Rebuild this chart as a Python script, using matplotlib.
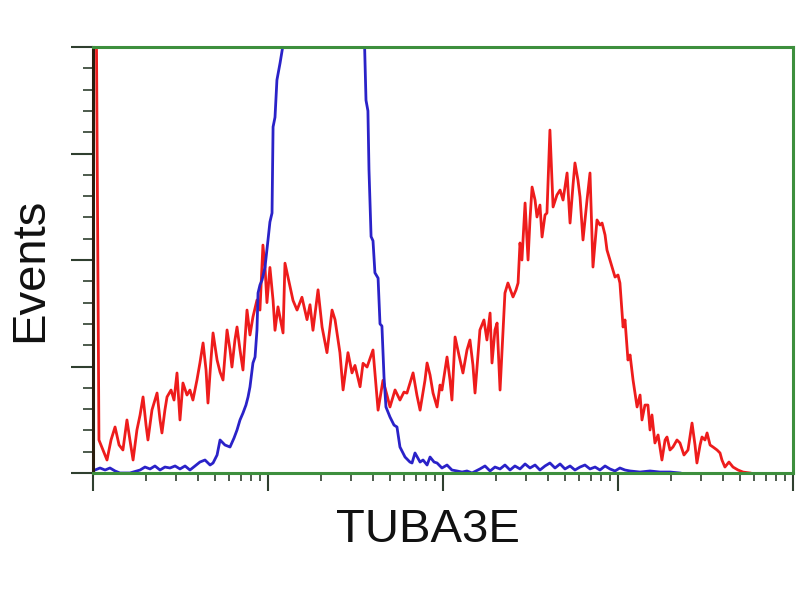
"""
Flow cytometry overlay: TUBA3E stained (red) vs control (blue).
Values read off the reference histogram, x in log10 decades, y in events.
"""

import numpy as np
import matplotlib.pyplot as plt
from matplotlib.ticker import LogLocator, MultipleLocator, NullFormatter

# ── Data ─────────────────────────────────────────────────────────────────────
RED_LOGX = [
    0.017, 0.034, 0.057, 0.080, 0.103, 0.126, 0.149, 0.171, 0.194, 0.211,
    0.229, 0.251, 0.269, 0.286, 0.303, 0.314, 0.337, 0.366, 0.383, 0.394,
    0.411, 0.423, 0.446, 0.463, 0.480, 0.497, 0.514, 0.537, 0.554, 0.571,
    0.594, 0.611, 0.629, 0.646, 0.657, 0.674, 0.686, 0.709, 0.726, 0.743,
    0.766, 0.783, 0.794, 0.811, 0.823, 0.840, 0.857, 0.880, 0.897, 0.914,
    0.937, 0.954, 0.971, 0.983, 0.994, 1.011, 1.029, 1.040, 1.057, 1.086,
    1.097, 1.126, 1.143, 1.166, 1.194, 1.223, 1.240, 1.257, 1.286, 1.309,
    1.337, 1.366, 1.383, 1.411, 1.429, 1.457, 1.480, 1.497, 1.526, 1.543,
    1.566, 1.600, 1.629, 1.657, 1.680, 1.697, 1.726, 1.754, 1.777, 1.794,
    1.829, 1.851, 1.869, 1.897, 1.909, 1.926, 1.943, 1.966, 1.983, 1.994,
    2.023, 2.040, 2.051, 2.069, 2.091, 2.114, 2.137, 2.154, 2.171, 2.183,
    2.211, 2.234, 2.251, 2.269, 2.280, 2.297, 2.309, 2.326, 2.343, 2.354,
    2.371, 2.400, 2.417, 2.429, 2.440, 2.451, 2.469, 2.486, 2.497, 2.509,
    2.526, 2.537, 2.554, 2.566, 2.583, 2.594, 2.611, 2.623, 2.629, 2.651,
    2.669, 2.686, 2.709, 2.726, 2.743, 2.754, 2.771, 2.783, 2.800, 2.823,
    2.840, 2.857, 2.880, 2.897, 2.909, 2.926, 2.937, 2.954, 2.983, 3.000,
    3.011, 3.029, 3.040, 3.057, 3.069, 3.086, 3.109, 3.126, 3.137, 3.154,
    3.171, 3.183, 3.194, 3.211, 3.229, 3.251, 3.269, 3.280, 3.297, 3.314,
    3.337, 3.354, 3.377, 3.400, 3.423, 3.440, 3.451, 3.469, 3.480, 3.497,
    3.509, 3.526, 3.543, 3.566, 3.583, 3.594, 3.611, 3.634, 3.657, 3.686,
    3.714, 3.754,
]
RED_EVENTS = [
    480, 31, 21.6, 12.2, 31, 43.2, 26.3, 21.6, 49.8, 31,
    12.2, 40.4, 54.5, 71.4, 45.1, 31, 59.2, 75.1, 49.8, 37.6,
    59.2, 71.4, 77.9, 68.5, 93.9, 49.8, 84.5, 73.2, 77.9, 68.5,
    87.3, 103.3, 122.1, 96.7, 65.7, 106.1, 131.5, 106.1, 94.8, 87.3,
    134.3, 115.5, 99.5, 124.9, 137.1, 115.5, 96.7, 153, 129.6, 146.5,
    162.4, 153, 214, 193, 160, 193, 162, 134, 156, 131.5,
    197, 175, 162, 153, 165, 144, 158, 134, 172, 137,
    113, 153, 144, 113, 78, 113, 94, 101, 81, 103,
    99.5, 115.5, 59, 87, 73, 62, 78, 68.5, 76, 75,
    94, 73, 59, 87, 103.3, 92, 75.1, 62, 82.6, 77.9,
    108.9, 87.3, 68.5, 127.7, 110.8, 93.9, 115.5, 124.9, 101.4, 75.1,
    134.3, 143.7, 124.9, 150.2, 103.3, 134.3, 140.8, 77.9, 134.3, 169,
    178.4, 165.3, 171.8, 178.4, 216, 200, 253.5, 200, 237.6, 268.5,
    256.3, 240.4, 251.6, 221.6, 242.3, 244.1, 322, 275.1, 249.8, 261,
    265.7, 256.3, 281.7, 234.7, 270.4, 291.1, 275.1, 259.2, 218.8, 256.3,
    281.7, 193.4, 237.6, 232.9, 234.7, 223.5, 209.4, 200, 184, 185.9,
    178.4, 137.1, 143.7, 106.1, 110.8, 87.3, 62, 73.2, 49.8, 63.8,
    63.8, 40.4, 54.5, 28.2, 35.7, 12.2, 31, 33.8, 21.6, 24.4,
    31, 28.2, 16.9, 21.6, 46.9, 26.3, 9.4, 26.3, 33.8, 31,
    37.6, 26.3, 24.4, 21.6, 18.8, 12.2, 5.6, 10.3, 5.6, 2.8,
    0.9, 0,
]

BLUE_LOGX = [
    0.011, 0.040, 0.069, 0.097, 0.126, 0.154, 0.211, 0.269, 0.297, 0.326,
    0.354, 0.383, 0.411, 0.440, 0.469, 0.497, 0.526, 0.554, 0.583, 0.611,
    0.640, 0.669, 0.686, 0.709, 0.726, 0.754, 0.783, 0.806, 0.823, 0.840,
    0.857, 0.874, 0.886, 0.897, 0.914, 0.926, 0.937, 0.943, 0.954, 0.966,
    0.983, 1.000, 1.011, 1.023, 1.029, 1.040, 1.051, 1.069, 1.086, 1.126,
    1.183, 1.240, 1.297, 1.354, 1.411, 1.469, 1.514, 1.549, 1.560, 1.571,
    1.577, 1.589, 1.600, 1.611, 1.629, 1.640, 1.651, 1.663, 1.674, 1.697,
    1.720, 1.737, 1.754, 1.783, 1.811, 1.823, 1.840, 1.869, 1.886, 1.909,
    1.926, 1.949, 1.966, 1.994, 2.023, 2.051, 2.080, 2.109, 2.137, 2.166,
    2.211, 2.240, 2.269, 2.297, 2.326, 2.354, 2.383, 2.411, 2.440, 2.469,
    2.497, 2.526, 2.554, 2.583, 2.611, 2.640, 2.669, 2.697, 2.726, 2.754,
    2.783, 2.811, 2.840, 2.869, 2.897, 2.926, 2.954, 2.983, 3.011, 3.040,
    3.069, 3.126, 3.183, 3.240, 3.297, 3.354,
]
BLUE_EVENTS = [
    2.8, 4.7, 2.8, 4.7, 1.9, 0, 0, 2.8, 5.6, 3.8,
    6.6, 2.8, 5.6, 4.7, 6.6, 3.8, 6.6, 2.8, 6.6, 10.3,
    12.2, 7.5, 9.4, 16.9, 31, 26.3, 24.4, 32.9, 40.4, 49.8,
    56.3, 63.8, 71.4, 80.8, 103.3, 108.9, 134.3, 169, 176.5, 181.2,
    193.4, 218.8, 235.7, 244.1, 325, 334, 369, 385, 402, 470,
    560, 640, 700, 690, 620, 530, 460, 420, 350, 340,
    285, 222, 218, 188, 183, 140, 138, 90, 62, 52.6,
    45, 43.2, 24.4, 15, 10.3, 9.4, 18.8, 10.3, 12.2, 7.5,
    15, 10.3, 9.4, 4.7, 7.5, 2.8, 1.9, 0.9, 1.9, 0,
    3.8, 6.6, 1.9, 5.6, 3.8, 7.5, 2.8, 6.6, 3.8, 8.5,
    4.7, 7.5, 2.8, 6.6, 9.4, 4.7, 8.5, 3.8, 6.6, 2.8,
    5.6, 7.5, 3.8, 5.6, 2.8, 6.6, 3.8, 1.9, 4.7, 2.8,
    1.9, 0.9, 1.9, 0.9, 0.9, 0,
]

X_LABEL = "TUBA3E"
Y_LABEL = "Events"

RED = "#ee1c1c"
BLUE = "#2a22c8"
GREEN = "#3d8f3d"
TICK = "#2f3f2f"

# ── Chart ────────────────────────────────────────────────────────────────────
fig = plt.figure(figsize=(8, 6), dpi=100)
ax = fig.add_axes([93 / 800, 1 - 473 / 600, 700 / 800, 426 / 600])

ax.plot(10 ** np.array(RED_LOGX), RED_EVENTS, color=RED, lw=2.0)
ax.plot(10 ** np.array(BLUE_LOGX), BLUE_EVENTS, color=BLUE, lw=2.0)

ax.set_xscale("log")
ax.set_xlim(1, 1e4)
ax.set_ylim(0, 400)

ax.xaxis.set_major_locator(LogLocator(base=10, numticks=10))
ax.xaxis.set_minor_locator(LogLocator(base=10, subs=np.arange(2, 10), numticks=10))
ax.xaxis.set_major_formatter(NullFormatter())
ax.xaxis.set_minor_formatter(NullFormatter())
ax.yaxis.set_major_locator(MultipleLocator(100))
ax.yaxis.set_minor_locator(MultipleLocator(20))
ax.yaxis.set_major_formatter(NullFormatter())

ax.tick_params(axis="x", which="major", direction="out", length=13, width=1.5, color=TICK)
ax.tick_params(axis="x", which="minor", direction="out", length=6, width=1.2, color=TICK)
ax.tick_params(axis="y", which="major", direction="out", length=16, width=1.5, color=TICK)
ax.tick_params(axis="y", which="minor", direction="out", length=7, width=1.2, color=TICK)
ax.tick_params(top=False, right=False)

for side in ("top", "right", "bottom"):
    ax.spines[side].set_color(GREEN)
    ax.spines[side].set_linewidth(2.2)
ax.spines["left"].set_color("#2b1d0e")
ax.spines["left"].set_linewidth(2.2)

fig.text(428 / 800, 1 - 530 / 600, X_LABEL, fontsize=34, family="Liberation Sans",
         ha="center", va="center", color="#111111")
fig.text(30 / 800, 1 - 270 / 600, Y_LABEL, fontsize=34, family="Liberation Sans",
         rotation=90, ha="center", va="center", color="#111111")

fig.savefig("out.png", dpi=100)
plt.close(fig)
